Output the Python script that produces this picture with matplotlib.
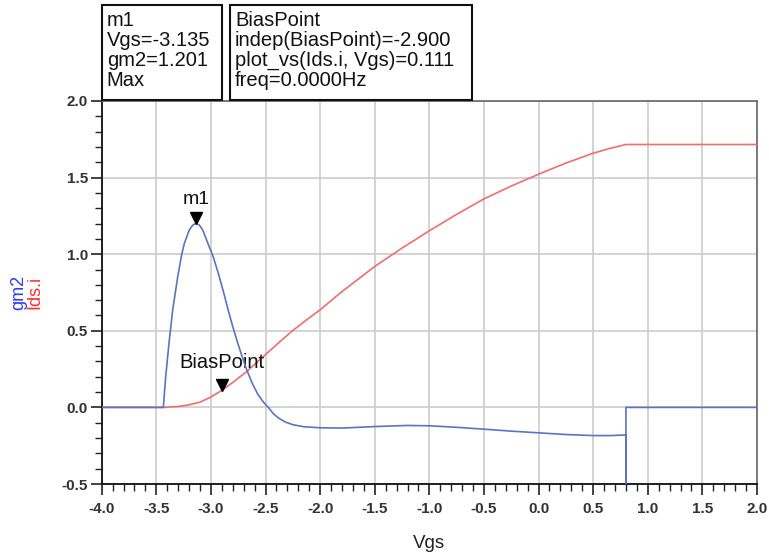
import numpy as np
import matplotlib
matplotlib.use('Agg')
import matplotlib.pyplot as plt
import matplotlib.transforms as mtrans
from matplotlib.patches import Rectangle
from matplotlib.ticker import MultipleLocator

plt.rcParams['font.family'] = ['Liberation Sans', 'DejaVu Sans']

# data (Vgs sweep)
gm2_vgs = [-4.0, -3.436, -3.414, -3.384, -3.35, -3.304, -3.267, -3.243, -3.198,
           -3.166, -3.136, -3.106, -3.075, -3.03, -2.98, -2.93, -2.88, -2.84,
           -2.795, -2.75, -2.718, -2.672, -2.62, -2.57, -2.52, -2.474, -2.43,
           -2.38, -2.32, -2.25, -2.15, -2.0, -1.8, -1.5, -1.2, -1.0, -0.75, -0.5,
           -0.25, 0.0, 0.25, 0.5, 0.65, 0.8, 0.8, 0.8, 2.0]
gm2 = [0.0, 0.0, 0.20, 0.419, 0.636, 0.853, 1.0, 1.071, 1.158,
       1.19, 1.201, 1.19, 1.158, 1.075, 0.985, 0.87, 0.74, 0.63,
       0.515, 0.41, 0.34, 0.245, 0.155, 0.085, 0.035, 0.0, -0.04,
       -0.07, -0.095, -0.113, -0.126, -0.133, -0.135, -0.125, -0.118, -0.12, -0.13, -0.142,
       -0.155, -0.166, -0.177, -0.184, -0.184, -0.18, -0.5, 0.0, 0.0]

ids_vgs = [-4.0, -3.436, -3.3, -3.207, -3.1, -3.0, -2.9, -2.8, -2.672, -2.505,
           -2.367, -2.25, -2.123, -2.0, -1.818, -1.5, -1.25, -1.0, -0.75, -0.5,
           -0.25, 0.0, 0.25, 0.5, 0.65, 0.8, 2.0]
ids = [0.0, 0.0, 0.006, 0.016, 0.034, 0.068, 0.111, 0.163, 0.234, 0.342,
       0.43, 0.502, 0.572, 0.637, 0.746, 0.92, 1.04, 1.153, 1.26, 1.361,
       1.445, 1.522, 1.595, 1.659, 1.69, 1.716, 1.716]

m1_x, m1_y = -3.135, 1.201
bias_x, bias_y = -2.9, 0.111

m1_text = "m1\nVgs=-3.135\ngm2=1.201\nMax"
bias_text = "BiasPoint\nindep(BiasPoint)=-2.900\nplot_vs(Ids.i, Vgs)=0.111\nfreq=0.0000Hz"

W, H = 769, 555
fig = plt.figure(figsize=(W / 100, H / 100), dpi=100)
ax = fig.add_axes([101.7 / W, 1 - 484 / H, (757 - 101.7) / W, (484 - 101) / H])

ax.plot(ids_vgs, ids, color='#f26d6d', lw=1.2, zorder=3)
ax.plot(gm2_vgs, gm2, color='#5a74c4', lw=1.2, zorder=4)

ax.set_xlim(-4.0, 2.0)
ax.set_ylim(-0.5, 2.0)
ax.xaxis.set_major_locator(MultipleLocator(0.5))
ax.xaxis.set_minor_locator(MultipleLocator(0.1))
ax.yaxis.set_major_locator(MultipleLocator(0.5))
ax.yaxis.set_minor_locator(MultipleLocator(0.1))
ax.xaxis.set_major_formatter(plt.FormatStrFormatter('%.1f'))
ax.yaxis.set_major_formatter(plt.FormatStrFormatter('%.1f'))
ax.grid(True, which='major', color='#cccccc', lw=1.2, zorder=0)
ax.tick_params(which='major', direction='out', length=8, width=1.2, color='#222222',
               labelsize=11, labelcolor='#333333')
ax.tick_params(axis='x', which='major', pad=5)
ax.tick_params(axis='y', which='major', pad=2)
ax.tick_params(which='minor', direction='out', length=5, width=1.0, color='#222222')
for lab in ax.get_xticklabels() + ax.get_yticklabels():
    lab.set_fontweight('bold')

for s in ['left', 'bottom']:
    ax.spines[s].set_color('#111111')
    ax.spines[s].set_linewidth(1.3)
for s in ['top', 'right']:
    ax.spines[s].set_color('#666666')
    ax.spines[s].set_linewidth(1.2)

ax.set_xlabel('Vgs', fontsize=13.5, color='#222222', labelpad=14)
fig.text(19 / W, 1 - 292 / H, 'gm2', rotation=90, color='#2b3bff', fontsize=13,
         ha='center', va='center')
fig.text(35 / W, 1 - 292 / H, 'Ids.i', rotation=90, color='#ff2d2d', fontsize=13,
         ha='center', va='center')

# markers: downward triangles sitting on the marked points
lift = mtrans.ScaledTranslation(0, 5 / 100, fig.dpi_scale_trans)
ax.plot([m1_x], [m1_y], marker='v', ms=8, color='black', zorder=6,
        transform=ax.transData + lift)
ax.plot([bias_x], [bias_y], marker='v', ms=8, color='black', zorder=6,
        transform=ax.transData + lift)
ax.annotate('m1', xy=(m1_x, m1_y), xytext=(0, 17), textcoords='offset points',
            ha='center', va='center', fontsize=14, color='#111111')
ax.annotate('BiasPoint', xy=(bias_x, bias_y), xytext=(0, 20), textcoords='offset points',
            ha='center', va='center', fontsize=14.5, color='#111111')

# readout boxes above the plot
def readout(x0, x1, y0, y1, txt):
    fig.patches.append(Rectangle((x0 / W, 1 - y1 / H), (x1 - x0) / W, (y1 - y0) / H,
                                 transform=fig.transFigure, fill=False,
                                 edgecolor='#111111', lw=1.5))
    fig.text((x0 + 5) / W, 1 - (y0 + 6) / H, txt, ha='left', va='top',
             fontsize=14.5, linespacing=1.07, color='#111111')

readout(101.7, 222.3, 4.7, 100, m1_text)
readout(230, 472.3, 4.7, 100, bias_text)

fig.savefig('out.png', dpi=100)
